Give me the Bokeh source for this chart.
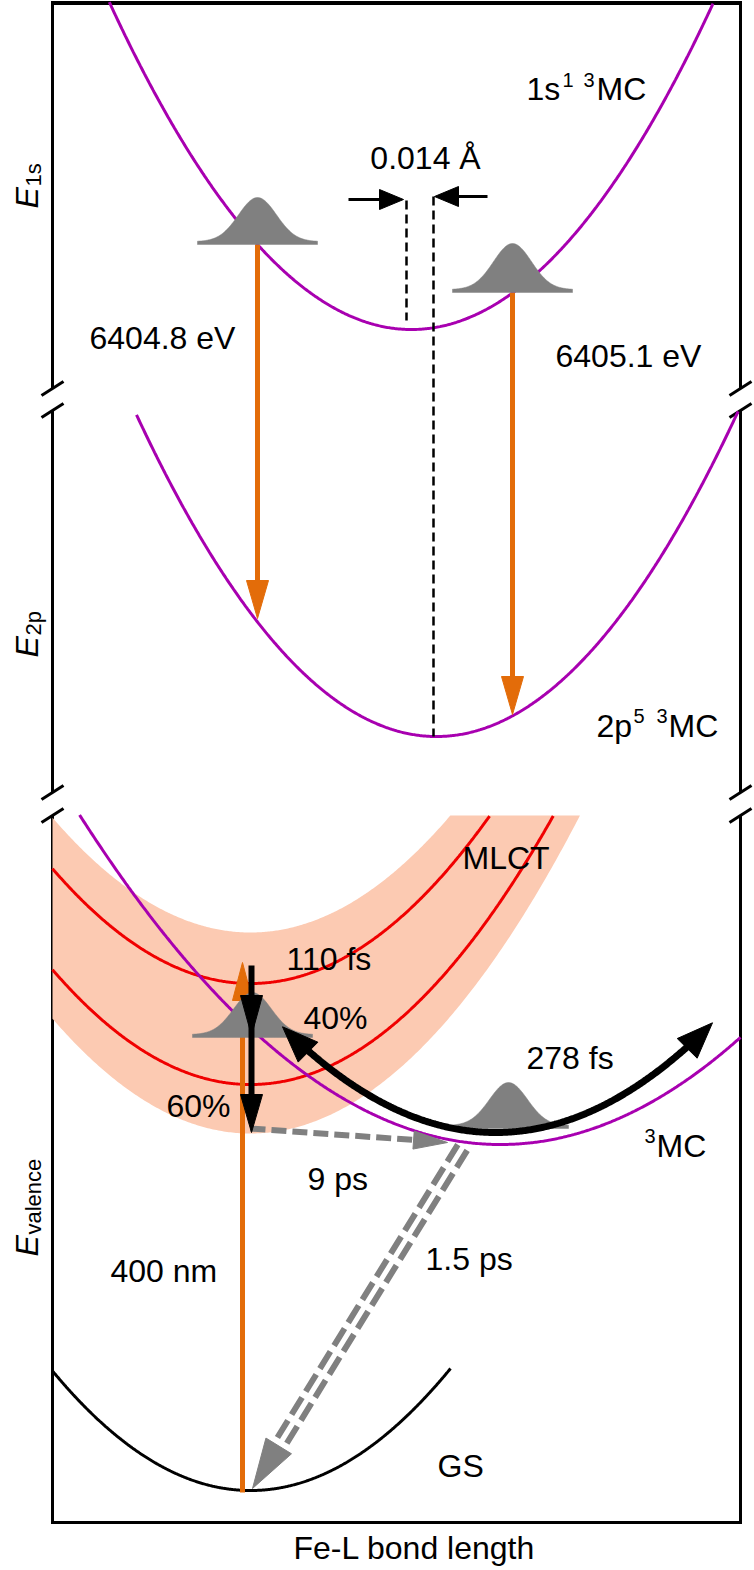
import numpy as np
from bokeh.plotting import figure
from bokeh.models import Range1d
from bokeh.embed import file_html
from bokeh.resources import INLINE
from bokeh.core.properties import value

# ---------------- data (x: Fe-L bond length, y: energy; drawing units) -------------
# three broken energy windows
window_top = [2, 410, 815]
window_bottom = [388, 792, 1522]
window_sub = ["1s", "2p", "valence"]
window_label_start = [208, 657, 1256]
axis_left, axis_right = 52, 740

# potential-energy curves (parabolas): position of minimum, minimum energy, curvature, drawn range
curve_names = ["1s1 3MC", "2p5 3MC", "MLCT upper", "MLCT lower", "3MC", "GS"]
curve_x0 = [411, 436, 250, 250, 500, 250]
curve_e0 = [329, 736, 983, 1084, 1144, 1490]
curve_k = [0.003585, 0.003574, 0.00293, 0.00293, 0.00186, 0.00305]
curve_xa = [100, 136, 52, 52, 60, 52]
curve_xb = [725, 740, 600, 600, 740, 450]
curve_window = [0, 1, 2, 2, 2, 2]
curve_color = ["#A800B0", "#A800B0", "#F00000", "#F00000", "#A800B0", "black"]

# MLCT vibrational band (edges, same curvature as MLCT curves)
band_x0, band_k = 250, 0.00293
band_e_upper, band_e_lower = 932, 1133

# wavepackets: centre position, base energy, height
packet_x = [257, 512, 252, 508]
packet_e = [244, 292, 1037, 1128]
packet_h = [44, 46, 42, 43]

# core-level emission arrows (1s -> 2p)
emission_x = [257, 512]
emission_from = [244, 292]
emission_to = [618, 714]
emission_labels = ["6404.8 eV", "6405.1 eV"]

# bond-length shift markers
shift_x = [406, 433]
shift_from = [200, 196]
shift_to = [320, 736]

# excitation (400 nm)
excite_x, excite_from, excite_to = 242, 1492, 962
# MLCT relaxation (110 fs): 40 % / 60 %
relax_x, relax_from, relax_mid, relax_to = 251, 965, 1035, 1132
# 278 fs oscillation path
osc_x0, osc_e0, osc_k, osc_xl, osc_xr = 495, 1132, 0.00233, 282, 712
# 9 ps MLCT -> 3MC, 1.5 ps 3MC -> GS
ps9_start, ps9_end = (250, 1128), (447, 1142)
ps15_start, ps15_end = (462, 1147), (252, 1488)

FONT = value("Liberation Sans")

p = figure(width=754, height=1566, x_range=Range1d(0, 754), y_range=Range1d(1566, 0),
           output_backend="svg", toolbar_location=None, min_border=0,
           x_axis_location=None, y_axis_location=None)
p.grid.visible = False
p.outline_line_color = None
p.background_fill_color = "white"


def parab(x0, e0, k, xa, xb, ytop):
    xs = np.linspace(xa, xb, 500)
    ys = e0 - k * (xs - x0) ** 2
    m = ys >= ytop - 1
    return xs[m], ys[m]


def head(tip, d, L, W, color):
    d = np.asarray(d, float)
    d = d / np.hypot(*d)
    n = np.array([-d[1], d[0]])
    t = np.asarray(tip, float)
    b = t - L * d
    pts = [t, b + W / 2 * n, b - W / 2 * n]
    p.patch([q[0] for q in pts], [q[1] for q in pts], fill_color=color, line_color=color, line_width=1)
    return b


def txt(x, y, s, size=32, align="left", style="normal", angle=0.0):
    # compensate the renderer's baseline placement
    off = 0.31 * size
    if angle:
        x = x - off
    else:
        y = y - off
    p.text(x=[x], y=[y], text=[s], text_font=FONT, text_font_size=f"{size}px",
           text_align=align, text_baseline="alphabetic", text_font_style=style,
           angle=angle, text_color="black")


def packet(xc, yb, h):
    xs = np.linspace(xc - 60, xc + 60, 161)
    top = yb - 3 - h * np.exp(-((xs - xc) ** 2) / (2 * 19.0 ** 2))
    p.patch(list(xs) + list(xs[::-1]), list(top) + [yb] * len(xs),
            fill_color="#808080", line_color="#808080", line_width=0.5)


# ---------------- frame with axis breaks ----------------
for t, b in zip(window_top, window_bottom):
    for xa in (axis_left, axis_right):
        p.line([xa, xa], [t, b], line_color="black", line_width=3)
        if t > 10:
            p.line([xa - 11, xa + 11], [t + 7, t - 7], line_color="black", line_width=3)
        if b < 1500:
            p.line([xa - 11, xa + 11], [b + 7, b - 7], line_color="black", line_width=3)
p.line([axis_left - 1.5, axis_right + 1.5], [window_top[0] + 0.5] * 2, line_color="black", line_width=4)
p.line([axis_left - 1.5, axis_right + 1.5], [window_bottom[2]] * 2, line_color="black", line_width=3)

# ---------------- MLCT band ----------------
xu_end = band_x0 + np.sqrt((band_e_upper - window_top[2]) / band_k)
xl_end = band_x0 + np.sqrt((band_e_lower - window_top[2]) / band_k)
xs_u = np.linspace(axis_left, xu_end, 300)
ys_u = band_e_upper - band_k * (xs_u - band_x0) ** 2
xs_l = np.linspace(xl_end, axis_left, 300)
ys_l = band_e_lower - band_k * (xs_l - band_x0) ** 2
p.patch([axis_left] + list(xs_u) + list(xs_l), [window_top[2]] + list(ys_u) + list(ys_l),
        fill_color="#FCCAB2", line_color=None)

# ---------------- curves ----------------
for i in range(len(curve_names)):
    xs, ys = parab(curve_x0[i], curve_e0[i], curve_k[i], curve_xa[i], curve_xb[i],
                   window_top[curve_window[i]])
    p.line(xs, ys, line_color=curve_color[i], line_width=3)

# ---------------- 400 nm excitation ----------------
p.line([excite_x, excite_x], [excite_from, excite_to + 36], line_color="#E36C09", line_width=5)
head((excite_x, excite_to), (0, -1), 38, 20, "#E36C09")

# ---------------- core-level emission arrows ----------------
for x, y0, y1 in zip(emission_x, emission_from, emission_to):
    p.line([x, x], [y0, y1 - 34], line_color="#E36C09", line_width=5)
    head((x, y1), (0, 1), 38, 22, "#E36C09")

# ---------------- wavepackets ----------------
for xc, yb, h in zip(packet_x, packet_e, packet_h):
    packet(xc, yb, h)

# ---------------- bond-length shift ----------------
for x, y0, y1 in zip(shift_x, shift_from, shift_to):
    p.line([x, x], [y0, y1], line_color="black", line_width=2.5, line_dash="9 5")
p.line([348, shift_x[0] - 20], [199, 199], line_color="black", line_width=3)
head((shift_x[0] - 3, 199), (1, 0), 24, 20, "black")
p.line([487, shift_x[1] + 20], [196, 196], line_color="black", line_width=3)
head((shift_x[1] + 1, 196), (-1, 0), 24, 20, "black")

# ---------------- 9 ps dashed arrow ----------------
d9 = np.subtract(ps9_end, ps9_start)
b9 = head(ps9_end, d9, 34, 18, "#808080")
p.line([ps9_start[0], b9[0] + 2], [ps9_start[1], b9[1]], line_color="#808080", line_width=6, line_dash="15 6")

# ---------------- 1.5 ps double dashed arrow ----------------
d15 = np.subtract(ps15_end, ps15_start).astype(float)
b15 = head(ps15_end, d15, 50, 30, "#808080")
u = d15 / np.hypot(*d15)
nrm = np.array([-u[1], u[0]])
for s in (-5.5, 5.5):
    p.line([ps15_start[0] + s * nrm[0], b15[0] + s * nrm[0]],
           [ps15_start[1] + s * nrm[1], b15[1] + s * nrm[1]],
           line_color="#808080", line_width=6, line_dash="20 7")

# ---------------- 110 fs relaxation ----------------
p.line([relax_x, relax_x], [relax_from, relax_to - 34], line_color="black", line_width=6)
head((relax_x, relax_mid), (0, 1), 40, 22, "black")
head((relax_x, relax_to), (0, 1), 38, 22, "black")

# ---------------- 278 fs oscillation ----------------
def osc_y(x):
    return osc_e0 - osc_k * (x - osc_x0) ** 2

tl = (osc_xl, osc_y(osc_xl))
tr = (osc_xr, osc_y(osc_xr))
dl = (-1.0, 2 * osc_k * (osc_xl - osc_x0))
dr = (1.0, -2 * osc_k * (osc_xr - osc_x0))
bl = head(tl, dl, 36, 28, "black")
br = head(tr, dr, 36, 28, "black")
xs = np.linspace(bl[0] - 2, br[0] + 2, 300)
p.line(xs, osc_y(xs), line_color="black", line_width=7)

# ---------------- labels ----------------
txt(425, 167, "0.014 Å", align="center")
txt(526, 98, "1s")
txt(562, 86, "1", size=20)
txt(583, 86, "3", size=20)
txt(596, 98, "MC")
txt(89, 347, emission_labels[0])
txt(555, 365, emission_labels[1])
txt(596, 735, "2p")
txt(633, 722, "5", size=20)
txt(656, 722, "3", size=20)
txt(668, 735, "MC")
txt(462, 867, "MLCT")
txt(286, 968, "110 fs")
txt(303, 1027, "40%")
txt(166, 1115, "60%")
txt(526, 1067, "278 fs")
txt(644, 1142, "3", size=20)
txt(656, 1155, "MC")
txt(307, 1188, "9 ps")
txt(425, 1268, "1.5 ps")
txt(110, 1280, "400 nm")
txt(437, 1475, "GS")
txt(414, 1557, "Fe-L bond length", align="center")

for s, y0 in zip(window_sub, window_label_start):
    txt(36, y0, "E", size=32, style="italic", angle=np.pi / 2)
    txt(40, y0 - 22, s, size=22, angle=np.pi / 2)

open("out.html", "w").write(file_html(p, INLINE))
